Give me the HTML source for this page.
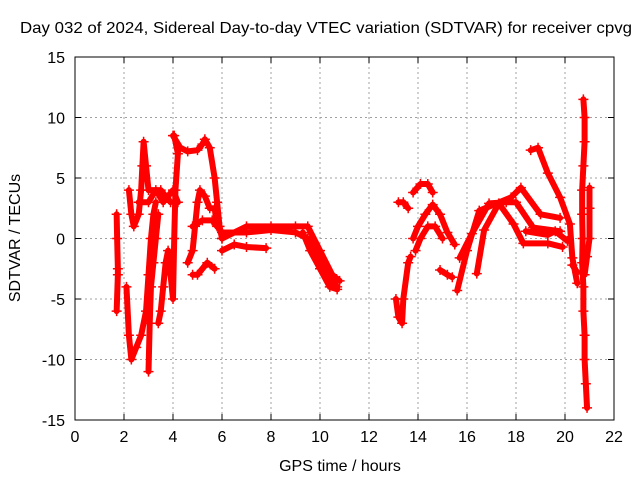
<!DOCTYPE html>
<html><head><meta charset="utf-8"><style>
body{margin:0;background:#fff;}
svg text{font-family:"Liberation Sans",sans-serif;font-size:16px;fill:#000;}
</style></head><body>
<svg id="chart" width="640" height="480" xmlns="http://www.w3.org/2000/svg">
<rect width="640" height="480" fill="#fff"/>
<text x="20" y="33" textLength="612" lengthAdjust="spacingAndGlyphs">Day 032 of 2024, Sidereal Day-to-day VTEC variation (SDTVAR) for receiver cpvg</text>
<text x="340" y="471" text-anchor="middle">GPS time / hours</text>
<text transform="translate(20,238) rotate(-90)" text-anchor="middle">SDTVAR / TECUs</text>
<g id="grid"></g><g id="marks"></g><g id="axes"></g>
</svg>
<script>
const xTicks=[0,2,4,6,8,10,12,14,16,18,20,22];
const yTicks=[-15,-10,-5,0,5,10,15];
const traceA=[[2.2,4],[2.3,2],[2.4,1],[2.6,2],[2.7,4],[2.75,6],[2.8,8],[2.9,6],[3.0,4],[3.5,4],[3.9,3]];
const traceB=[[2.6,3],[3.0,3],[3.3,4],[3.6,3],[4.0,4],[4.2,3]];
const traceC=[[2.1,-4],[2.2,-8],[2.3,-10],[2.5,-9],[2.7,-8],[2.9,-6],[3.0,-3],[3.1,0],[3.2,2],[3.3,3]];
const traceD=[[3.0,-11],[3.05,-7],[3.1,-4],[3.2,-2],[3.3,0],[3.4,2]];
const traceE=[[3.4,-7],[3.5,-6],[3.6,-4],[3.7,-2],[3.8,-1],[3.9,-3],[4.0,-5],[4.05,0],[4.1,4],[4.2,7],[4.05,8.5]];
const traceF=[[4.0,8.5],[4.3,7.5],[4.6,7.2],[5.0,7.3],[5.2,7.8],[5.3,8.2],[5.5,7.5],[5.7,5],[5.8,3],[5.9,1],[6.0,0]];
const traceG=[[4.6,-2],[4.8,-1],[4.9,1],[5.0,3],[5.1,4],[5.3,3.5],[5.5,2.5],[5.7,2.5],[5.8,1]];
const traceH=[[4.8,1],[5.2,1.5],[5.6,1.5],[6.0,0.5],[7,0.5],[8,0.7],[9,0.5],[9.5,0],[10,-2],[10.5,-3.5],[10.7,-4]];
const traceI=[[4.8,-3],[5.0,-3],[5.4,-2],[5.7,-2.5]];
const traceJ=[[6.0,-1],[6.5,-0.5],[7,-0.7],[7.8,-0.8]];
const traceK=[[6,0],[7,1],[8,1],[9,1],[9.5,1],[10,-1],[10.5,-3],[10.8,-3.5]];
const traceL=[[9.3,0.5],[9.6,-1],[10,-2.5],[10.4,-4],[10.7,-4.2]];
const traceM=[[1.7,2],[1.72,0],[1.75,-2.5],[1.75,-3],[1.7,-6]];
const traceN=[[13.2,3],[13.4,3],[13.6,2.5]];
const traceO=[[13.1,-5],[13.2,-6.5],[13.35,-7],[13.4,-5],[13.6,-2],[13.7,-1.5]];
const traceP=[[13.8,3.8],[14.1,4.5],[14.4,4.5],[14.6,3.8]];
const traceR1=[[13.8,0],[14.0,1],[14.3,2],[14.6,2.8],[14.9,2],[15.2,0.5],[15.5,-0.5]];
const traceR2=[[13.9,-1],[14.1,0],[14.4,1],[14.7,1],[15.0,0]];
const traceR3=[[14.9,-2.6],[15.2,-3],[15.4,-3.2]];
const traceR4=[[15.6,-4.3],[16.0,-1],[16.5,2.3],[17.8,3.4],[18.2,4.2],[19.0,2],[19.8,1.7]];
const traceR5=[[15.7,-1.6],[16.2,0.4],[16.9,2.9],[17.6,3],[18.0,3],[18.7,0.9],[19.8,0.6]];
const traceR6=[[16.4,-2.9],[16.7,0.7],[17.3,2.9],[17.9,1.2],[18.3,-0.4],[19.3,-0.4],[19.9,-0.7]];
const traceR7=[[18.4,0.6],[19.3,0.3],[19.6,0.6],[20.1,-0.2]];
const traceR8=[[18.6,7.3],[18.9,7.5],[19.3,5.4],[19.8,3.4],[20.2,1.2],[20.3,-1.6],[20.5,-3.7]];
const traceR9=[[20.75,11.5],[20.8,10],[20.8,8],[20.75,6],[20.7,4],[20.7,2],[20.72,0],[20.7,-2],[20.75,-4],[20.75,-6],[20.8,-8],[20.8,-10],[20.85,-12],[20.9,-14]];
const traceR10=[[21.0,4.2],[21.0,2.5],[21.0,0],[20.9,-1.5],[20.8,-3]];
const traceR11=[[20.3,-2.2],[20.5,-2.8]];
const traces=[traceA,traceB,traceC,traceD,traceE,traceF,traceG,traceH,traceI,traceJ,traceK,traceL,traceM,traceN,traceO,traceP,traceR1,traceR2,traceR3,traceR4,traceR5,traceR6,traceR7,traceR8,traceR9,traceR10,traceR11];
const L=75,R=614,T=57,B=420;
const xs=v=>L+(v-0)/(22-0)*(R-L);
const ys=v=>B-(v+15)/30*(B-T);
const NS="http://www.w3.org/2000/svg";
function mk(tag,attrs,parent){const e=document.createElementNS(NS,tag);for(const k in attrs)e.setAttribute(k,attrs[k]);parent.appendChild(e);return e;}
const grid=document.getElementById('grid'),axes=document.getElementById('axes'),marks=document.getElementById('marks');
xTicks.forEach(t=>{const x=xs(t);
 if(t>0&&t<22){const g=mk('line',{x1:x,x2:x,y1:T,y2:B,stroke:'#a0a0a0','stroke-dasharray':'2,3'},grid);
 
 }
 mk('line',{x1:x,x2:x,y1:B,y2:B-6,stroke:'#000'},axes);mk('line',{x1:x,x2:x,y1:T,y2:T+6,stroke:'#000'},axes);
 const tx=mk('text',{x:x,y:B+22,'text-anchor':'middle'},axes);tx.textContent=t;
 
 });
yTicks.forEach(t=>{const y=ys(t);
 if(t>-15&&t<15){const g=mk('line',{x1:L,x2:R,y1:y,y2:y,stroke:'#a0a0a0','stroke-dasharray':'2,3'},grid);
 
 }
 mk('line',{x1:L,x2:L+6,y1:y,y2:y,stroke:'#000'},axes);mk('line',{x1:R,x2:R-6,y1:y,y2:y,stroke:'#000'},axes);
 const tx=mk('text',{x:L-10,y:y+6,'text-anchor':'end'},axes);tx.textContent=t;
 
 });
const frame=mk('rect',{x:L,y:T,width:R-L,height:B-T,fill:'none',stroke:'#000'},axes);


traces.forEach(tr=>{
 const p=mk('polyline',{points:tr.map(d=>xs(d[0])+','+ys(d[1])).join(' '),fill:'none',stroke:'#f00','stroke-width':6,'stroke-linejoin':'round','stroke-linecap':'round'},marks);
 
 
 tr.forEach(d=>{const x=xs(d[0]),y=ys(d[1]);
  const m=mk('path',{d:`M${x-5},${y}H${x+5}M${x},${y-5}V${y+5}`,stroke:'#f00','stroke-width':1.5},marks);
  
  });
});
</script>
</body></html>
